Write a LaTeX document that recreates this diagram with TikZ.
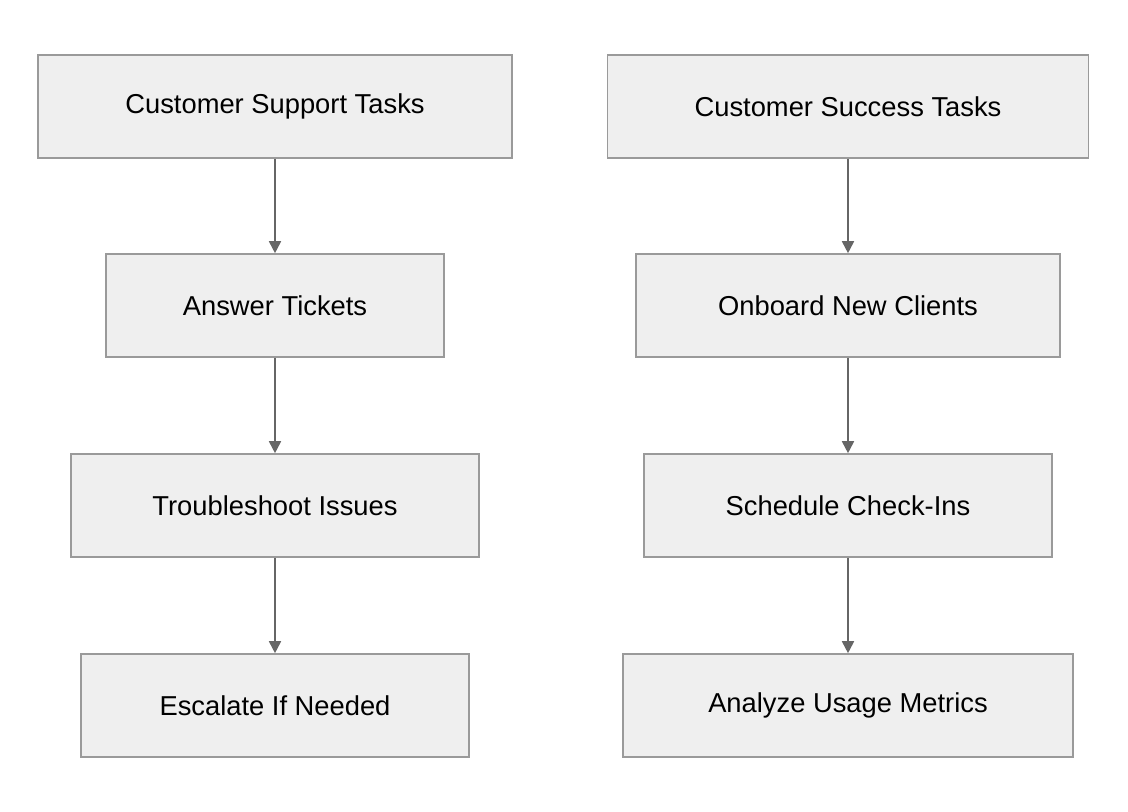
\documentclass[tikz,border=0pt]{standalone}
\usepackage{fontspec}
\setmainfont{Liberation Sans}
\usetikzlibrary{arrows.meta}
\definecolor{boxfill}{HTML}{EFEFEF}
\definecolor{boxline}{HTML}{9A9A9A}
\definecolor{arr}{HTML}{666666}
\begin{document}
\begin{tikzpicture}[x=0.75pt,y=-0.75pt,
  box/.style={draw=boxline,fill=boxfill,line width=1.2pt,minimum height=77.25pt,inner sep=0pt,font=\fontsize{20.5}{24}\selectfont},
  link/.style={draw=arr,line width=1.3pt,-{Triangle[length=9pt,width=9pt]}}]
\useasboundingbox (0,0) rectangle (1128,812);
\node[box,minimum width={474*0.75pt}] (a1) at (275,106.5) {Customer Support Tasks};
\node[box,minimum width={338*0.75pt}] (a2) at (275,305.5) {Answer Tickets};
\node[box,minimum width={408*0.75pt}] (a3) at (275,505.5) {Troubleshoot Issues};
\node[box,minimum width={388*0.75pt}] (a4) at (275,705.5) {Escalate If Needed};
\node[box,minimum width={481*0.75pt}] (b1) at (848,106.5) {Customer Success Tasks};
\node[box,minimum width={424*0.75pt}] (b2) at (848,305.5) {Onboard New Clients};
\node[box,minimum width={408*0.75pt}] (b3) at (848,505.5) {Schedule Check-Ins};
\node[box,minimum width={450*0.75pt}] (b4) at (848,705.5) {Analyze Usage Metrics};
\draw[link] (a1) -- (a2);
\draw[link] (a2) -- (a3);
\draw[link] (a3) -- (a4);
\draw[link] (b1) -- (b2);
\draw[link] (b2) -- (b3);
\draw[link] (b3) -- (b4);
\end{tikzpicture}
\end{document}
